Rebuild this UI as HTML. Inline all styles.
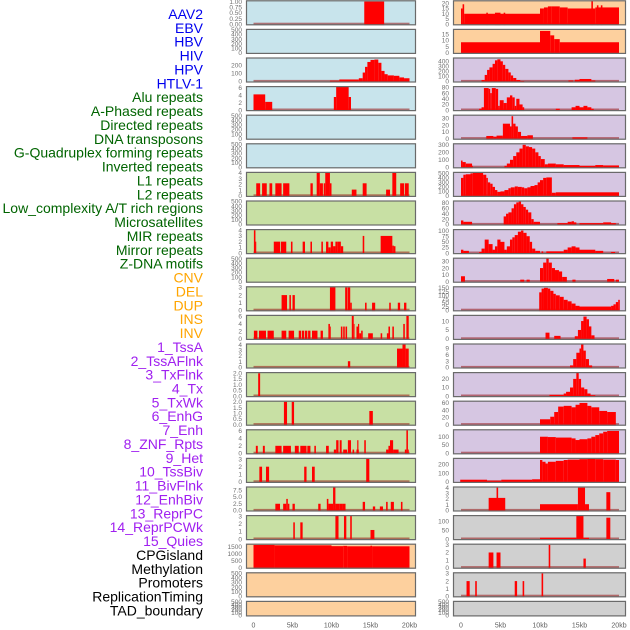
<!DOCTYPE html>
<html><head><meta charset="utf-8"><style>
html,body{margin:0;padding:0;background:#fff;}
svg{display:block;font-family:"Liberation Sans",sans-serif;}
</style></head><body>
<svg id="chart" width="630" height="630" viewBox="0 0 630 630" xmlns="http://www.w3.org/2000/svg"></svg>
<script>
const labels = ["AAV2","EBV","HBV","HIV","HPV","HTLV-1","Alu repeats","A-Phased repeats","Directed repeats","DNA transposons","G-Quadruplex forming repeats","Inverted repeats","L1 repeats","L2 repeats","Low_complexity A/T rich regions","Microsatellites","MIR repeats","Mirror repeats","Z-DNA motifs","CNV","DEL","DUP","INS","INV","1_TssA","2_TssAFlnk","3_TxFlnk","4_Tx","5_TxWk","6_EnhG","7_Enh","8_ZNF_Rpts","9_Het","10_TssBiv","11_BivFlnk","12_EnhBiv","13_ReprPC","14_ReprPCWk","15_Quies","CPGisland","Methylation","Promoters","ReplicationTiming","TAD_boundary"];
const labelGroups = [6,13,5,15,5];
const groupColors = ["#0000ee","#006400","#ffa500","#a020f0","#000000"];
const leftBg = ["b","b","b","b","b","b","g","g","g","g","g","g","g","g","g","g","g","g","g","o","o","o"];
const rightBg = ["o","o","p","p","p","p","p","p","p","p","p","p","p","p","p","p","p","g2","g2","g2","g2","g2"];
const bgColors = {b:"#c8e4ec",g:"#c8e0a4",o:"#fdd09e",p:"#d6c6e2",g2:"#d0d0d0"};
const E = ["0","100","200","300","400","500"];
const leftTicks = [["0.00","0.25","0.50","0.75","1.00"],E,["0","100","200"],["0","2","4","6"],E,E,["0","1","2","3","4"],E,["0","1","2","3","4"],E,["0","1","2","3"],["0","2","4","6"],["0","1","2","3","4"],["0.0","0.5","1.0","1.5","2.0"],["0.0","0.5","1.0","1.5","2.0"],["0","2","4","6"],["0","1","2","3"],["0.0","2.5","5.0","7.5"],["0","1","2","3"],["0","500","1000","1500"],E,E];
const leftMax = [1.02,500,285,6.2,500,500,4.05,500,4.05,500,3.05,6.2,4.05,2.03,2.03,6.2,3.05,8.6,3.05,1680,500,500];
const rightTicks = [["0","5","10","15","20"],["0","5","10","15"],["0","100","200","300","400"],["0","20","40","60","80"],["0","10","20","30"],["0","100","200","300"],["0","100","200","300","400","500"],["0","20","40","60","80"],["0","25","50","75","100"],["0","10","20","30"],["0","25","50","75","100","125","150"],["0","5","10"],["0","3","6","9"],["0","10","20"],["0","20","40","60"],["0","50","100"],["0","100","200"],["0","1","2","3","4"],["0","50","100"],["0","1","2","3"],["0","1","2","3"],E];
const rightMax = [22,18.5,460,82,34,310,515,86,103,34,155,13,11,27,64,140,265,4.05,130,3.05,3.05,500];
const leftBase = [1,0,1,1,0,0,1,0,1,0,1,1,1,1,1,1,1,1,1,0,0,0];
const rightBase = [1,1,1,1,1,1,1,1,1,1,1,1,1,1,1,1,1,1,1,1,1,0];
const leftBars = [
[[14.2,16.75,1]],
[],
[[9.8,11,10],[11,13.5,25],[13.5,14,40],[14,14.3,110],[14.3,14.6,180],[14.6,15,240],[15,15.5,265],[15.5,16,270],[16,16.4,230],[16.4,16.8,130],[16.8,17.2,90],[17.2,18,75],[18,18.7,70],[18.7,19.3,50],[19.3,20,40]],
[[0,1.5,4.2],[1.5,2.4,2.2],[10.3,10.6,3.5],[10.6,12.2,6.2],[12.2,12.5,3.5]],
[],[],
[[0.35,0.85,2.2],[1.1,1.7,2.2],[2.05,2.4,2.2],[2.8,3.6,2.2],[3.8,4.6,2.2],[7.3,7.6,2.2],[8.1,8.5,4],[8.5,8.9,2.2],[9,9.2,2.2],[9.2,9.8,4],[9.8,10,2.2],[12.6,13.2,1.1],[14,14.5,2.2],[17,17.5,1.1],[17.8,18.3,4],[18.8,19.3,2.2],[19.4,19.9,2.2]],
[],
[[0.05,0.25,4],[0.25,0.35,2],[2.6,3.4,2],[3.5,4.2,2],[4.8,5,2],[6.3,6.6,2],[7.3,7.5,2],[8.7,8.9,2],[9.3,9.6,2],[9.6,9.9,1],[9.9,10.2,2],[10.2,10.5,1.2],[10.5,10.8,2],[10.8,11.2,2],[11.2,11.5,1.2],[14,14.2,3],[16.3,17.5,3],[17.5,17.8,3],[17.8,18,1.3],[18,18.2,1.2]],
[],
[[3.6,4.3,2],[4.6,4.8,2],[5,5.3,2],[9.8,10.5,3.05],[11.75,12.05,3],[12.1,12.4,3],[12.4,12.6,1],[14.3,14.5,1],[15.2,15.6,1],[17.4,17.6,1],[18.5,18.8,1],[19.3,19.6,1]],
[[0.05,0.5,2.2],[0.7,1.6,2.2],[1.8,2.6,2.2],[3.6,4.2,2.2],[4.5,5.2,2.2],[5.8,6.1,2.2],[6.2,6.5,2.2],[6.6,6.9,2.2],[7,7.3,2.2],[7.5,8.2,2.2],[8.6,8.9,2.2],[9.6,9.8,4],[9.8,9.9,3.3],[11.2,11.4,3.3],[11.5,11.7,3.3],[11.8,12,3.3],[12.6,12.85,6.2],[12.85,12.95,4],[13.2,13.4,3.3],[13.4,13.55,4],[13.55,13.8,1.5],[13.8,14,2.2],[14.7,15.3,1.5],[16.3,16.5,1.5],[17.1,17.3,1.5],[17.3,17.5,3.3],[17.8,18,3.3],[19.2,19.4,4],[19.6,19.9,6.2]],
[[12.1,12.4,1.1],[18.4,19.1,3.3],[19.1,19.5,4.05],[19.5,19.9,3.3]],
[[0.6,0.85,2]],
[[3.9,4.3,2],[4.9,5.2,2],[14.85,15.3,1.2]],
[[0.3,0.55,2],[1.2,1.45,2],[2.8,3.6,2],[3.8,4.8,2],[5.3,5.8,2],[6,6.8,2],[6.9,7.3,2],[7.8,8,2],[9.3,9.65,2],[10.3,10.6,1],[10.6,10.9,3.5],[11.05,11.3,3.5],[11.5,12,1],[12.1,12.5,3.5],[12.7,12.9,1],[13.2,13.5,1],[13.3,13.45,3.5],[14.2,14.4,3.5],[17,17.3,1],[17.3,17.5,2],[17.5,17.9,3.5],[17.9,18.6,1],[19.4,19.6,1],[19.6,19.8,6.2],[19.8,19.9,1]],
[[0.75,1.1,2],[1.6,2,2],[6.5,6.8,2],[7.5,7.85,2],[14.45,14.85,3.05]],
[[2.8,3.4,2.5],[3.8,4.2,2.5],[4.2,4.4,4.3],[4.4,4.6,2.5],[5,5.3,2.5],[8.3,8.6,2.5],[9.4,9.6,4.3],[9.6,10.2,2.5],[10.2,10.5,8.6],[10.5,11,2.5],[11,11.4,2.5],[11.4,11.8,2.5],[14,14.3,3.2],[15.3,15.6,1.5],[16.2,16.6,1.5],[17,17.2,3.2],[17.6,18,3.2],[18.9,19.1,3.2]],
[[5.1,5.3,2.2],[6,6.3,2.2],[10.5,10.9,3.05],[11.6,11.9,3.05],[12.4,12.6,3.05],[15,15.5,1.2]],
[[0,2.7,1650],[2.7,10,1620],[10,11.5,1560],[11.5,12,1580],[12,15,1550],[15,15.2,1590],[15.2,20,1550]],
[],[]
];
const rightBars = [
[[0,0.2,15],[0.2,0.4,19],[0.4,10,10],[3.2,3.4,11],[4.3,5,11],[5.4,5.6,11],[10,10.5,15],[10.5,11,16],[11,11.5,17],[11.5,12.5,17],[12.5,13.5,16],[13.5,17,15],[17,20,16],[16.5,16.7,22],[17.2,17.4,18],[17.7,17.9,18]],
[[0,10,8.5],[10,11.3,17.5],[11.3,11.8,14],[11.8,12.5,11],[12.5,20,8.5]],
[[2.6,3,30],[3,3.3,130],[3.3,3.6,230],[3.6,4,280],[4,4.3,350],[4.3,4.6,420],[4.6,5,440],[5,5.3,400],[5.3,5.6,330],[5.6,6,250],[6,6.3,180],[6.3,6.6,120],[6.6,7,70],[7,7.5,30],[7.5,8,10],[13.6,14.2,20],[14.4,15,35],[15,16.5,50],[16.5,17,20]],
[[2.3,2.6,5],[2.6,2.9,10],[2.9,3.5,78],[3.5,3.7,75],[3.7,3.9,60],[3.9,4.4,78],[4.4,4.7,75],[4.7,4.9,15],[4.9,5.4,35],[5.4,5.8,25],[5.8,6.2,45],[6.2,6.5,52],[6.5,6.8,45],[6.8,7,15],[7,7.4,40],[7.4,7.8,20],[7.8,8,10],[12,12.5,5],[14,14.5,10],[14.5,15,15],[15,15.5,10],[15.5,16,15],[16,16.5,10],[16.5,16.8,5]],
[[3.2,4.1,4],[4.1,4.5,3],[4.5,5.3,4.5],[5.3,6.2,22],[6.2,6.4,18],[6.4,6.6,33],[6.6,6.9,22],[6.9,7.2,18],[7.2,7.6,10],[7.6,8.4,4],[8.4,9.1,5],[14.1,16,2]],
[[0,0.2,90],[0.2,0.6,70],[0.6,1.4,50],[1.4,1.5,20],[5.5,5.8,20],[5.8,6.2,50],[6.2,6.6,100],[6.6,7,150],[7,7.4,200],[7.4,7.8,250],[7.8,8.2,300],[8.2,8.6,280],[8.6,9,270],[9,9.4,250],[9.4,9.8,200],[9.8,10.1,150],[10.1,10.6,110],[10.6,11,40],[11,12,50],[12,13,40],[13,15,30],[15,17,20],[17,18,30],[18,20,25]],
[[0,0.3,400],[0.3,0.6,470],[0.6,1.2,480],[1.2,1.5,500],[1.5,2.8,510],[2.8,3.2,470],[3.2,3.4,400],[3.4,3.7,300],[3.7,4,270],[4,4.3,200],[4.3,4.6,130],[4.6,5,90],[5,5.5,100],[5.5,6,130],[6,6.3,170],[6.3,6.8,190],[6.8,7.2,210],[7.2,7.7,200],[7.7,8,190],[8,8.4,170],[8.4,8.8,190],[8.8,9.3,220],[9.3,9.7,240],[9.7,10,300],[10,10.4,350],[10.4,10.8,400],[10.8,11.5,410],[11.5,12,70],[12,20,80]],
[[0,0.3,15],[0.3,1.4,10],[5.4,5.7,30],[5.7,6,40],[6,6.4,45],[6.4,6.7,60],[6.7,7,75],[7,7.3,82],[7.3,7.6,85],[7.6,7.9,75],[7.9,8.2,65],[8.2,8.5,55],[8.5,8.9,45],[8.9,9.2,20],[9.2,10,10],[12.2,13.5,5],[13.5,14,10],[14,14.3,12],[14.3,14.6,8],[15,18,5],[18,19,8],[19,19.6,5]],
[[0,0.3,15],[0.3,1,10],[2.3,2.6,5],[2.6,3,20],[3,3.5,60],[3.5,4,40],[4,4.3,15],[4.3,4.6,30],[4.6,5,60],[5,5.5,50],[5.5,5.8,15],[5.8,6.2,30],[6.2,6.5,60],[6.5,6.8,70],[6.8,7.2,80],[7.2,7.6,95],[7.6,7.9,100],[7.9,8.3,90],[8.3,8.7,75],[8.7,9,50],[9,9.4,20],[9.4,10,10],[10.2,10.4,8],[10.8,13,8],[13,13.5,15],[13.5,14,25],[14,14.5,30],[14.5,15,25],[15,17,15],[17,18,10],[19,19.5,5]],
[[0,0.5,8],[7.5,8,3],[8.3,8.7,3],[10,10.4,20],[10.4,10.8,28],[10.8,11.1,34],[11.1,11.5,28],[11.5,11.9,20],[11.9,12.4,17],[12.4,12.8,15],[12.8,13.4,7],[14.1,14.5,3],[18.5,19.4,4],[19.6,20,3]],
[[9.9,10.2,120],[10.2,10.5,145],[10.5,11,150],[11,11.3,145],[11.3,11.7,130],[11.7,12,110],[12,12.5,100],[12.5,13,90],[13,13.5,70],[13.5,14,60],[14,14.5,45],[14.5,15,30],[15,19,25],[19,19.3,30],[19.3,19.6,40],[19.6,19.9,55],[19.9,20.1,70]],
[[10.7,11.2,3.5],[11.8,12.6,1.7],[14.4,14.8,1.5],[14.8,15.2,5],[15.2,15.5,10],[15.5,15.9,12.5],[15.9,16.2,11],[16.2,16.5,7],[16.5,16.9,2]],
[[13.8,14.2,1],[14.2,14.6,4],[14.6,15,7],[15,15.2,9],[15.2,15.5,11],[15.5,15.8,8],[15.8,16.2,4],[16.2,16.6,1]],
[[11.2,13,1.5],[13,13.3,3],[13.3,13.8,5],[13.8,14.2,10],[14.2,14.6,20],[14.6,14.9,27],[14.9,15.2,20],[15.2,15.6,10],[15.6,16,8],[16,16.4,3],[16.4,17,1]],
[[10,11.3,15],[11.3,11.8,22],[11.8,12.3,35],[12.3,13,50],[13,14,52],[14,14.5,48],[14.5,15,55],[15,16,60],[16,16.5,52],[16.5,17.5,48],[17.5,18.5,38],[18.5,19.6,35]],
[[10,11,100],[11,12,98],[12,14,95],[14,14.5,90],[14.5,15,80],[15,16,85],[16,16.5,90],[16.5,17,100],[17,17.5,110],[17.5,18,120],[18,18.5,130],[18.5,20,135]],
[[-0.1,3.3,25],[3.3,5.1,15],[5.1,9,25],[9,10,30],[10,10.3,250],[10.3,10.7,230],[10.7,11,210],[11,12,230],[12,13,240],[13,13.5,250],[13.5,15,255],[15,16,260],[16,17,265],[17,18,260],[18,19.6,255],[19.6,20,250]],
[[3.5,5.6,2.2],[4.5,4.7,4],[10,14.8,1.1],[14.8,15.7,4],[15.7,16.2,1.1],[18.4,18.9,3.2]],
[[10,14.6,8],[14.6,15.5,130],[15.5,16.2,8],[18.4,18.9,120]],
[[3.5,4.1,2],[4.5,5,2],[11.1,11.3,3],[15.5,15.8,1.2]],
[[0.7,1.1,2],[1.8,2,2],[6.8,7.1,2],[7.8,8,2],[10.2,10.4,3]],
[]
];
const xTickVals = [0,5,10,15,20];
const xTickLabels = ["0","5kb","10kb","15kb","20kb"];

const NS = "http://www.w3.org/2000/svg";
const svg = document.getElementById("chart");
function mk(tag, attrs, parent) {
  const e = document.createElementNS(NS, tag);
  for (const k in attrs) e.setAttribute(k, attrs[k]);
  (parent || svg).appendChild(e);
  return e;
}
const L = {x0: 246, x1: 416, sx: (kb) => 253.5 + kb * 7.8};
const R = {x0: 453, x1: 626, sx: (kb) => 461 + kb * 7.9};
function rowTop(i) { return 0.3 + 28.6 * i; }
function rowH(i) { return i === 21 ? 15.5 : 25; }

// labels
let li = 0;
labelGroups.forEach((n, g) => {
  for (let k = 0; k < n; k++) {
    const t = mk("text", {x: 203, y: 19 + li * 13.87, "text-anchor": "end", "font-size": "14", fill: groupColors[g]});
    t.textContent = labels[li];
    
    
    li++;
  }
});

function drawPanel(side, i, bg, ticks, ymax, bars, base) {
  const T = rowTop(i), H = rowH(i);
  const g = mk("g", {});
  
  
  const clipId = "c" + (side === L ? "L" : "R") + i;
  const cp = mk("clipPath", {id: clipId}, g);
  mk("rect", {x: side.x0, y: T, width: side.x1 - side.x0, height: H}, cp);
  const bgr = mk("rect", {x: side.x0, y: T, width: side.x1 - side.x0, height: H, fill: bgColors[bg]}, g);
  
  
  const y = (v) => T + H - 1 - v / ymax * (H - 1.8);
  const inner = mk("g", {"clip-path": "url(#" + clipId + ")"}, g);
  if (base) {
    const bl = mk("rect", {x: side.sx(0), y: T + H - 2.6, width: side.sx(20) - side.sx(0), height: 1.8, fill: "rgba(150,20,20,0.55)"}, inner);
    
    
  }
  bars.forEach(b => {
    const x0 = side.sx(b[0]), x1 = side.sx(b[1]);
    const yt = y(b[2]);
    const r = mk("rect", {x: x0, y: yt, width: Math.max(0.8, x1 - x0), height: T + H - yt, fill: "#ff0000"}, inner);
    
    
  });
  const br = mk("rect", {x: side.x0 + 0.5, y: T + 0.5, width: side.x1 - side.x0 - 1, height: H - 1, fill: "none", stroke: "#6a6a6a", "stroke-width": 1.2}, g);
  
  
  const n = ticks.length;
  const topVal = parseFloat(ticks[n - 1]);
  ticks.forEach((tl, k) => {
    const v = parseFloat(tl);
    let yy = y(v);
    if (ticks === E || (H < 20)) yy = T + H - 1 - (k / (n - 1)) * (H - 2);
    const t = mk("text", {x: side.x0 - 4, y: yy + 2.2, "text-anchor": "end", "font-size": "6.5", fill: "#707070"}, g);
    t.textContent = tl;
    
    
  });
}
for (let i = 0; i < 22; i++) {
  drawPanel(L, i, leftBg[i], leftTicks[i], leftMax[i], leftBars[i], leftBase[i]);
  drawPanel(R, i, rightBg[i], rightTicks[i], rightMax[i], rightBars[i], rightBase[i]);
}
[L, R].forEach(side => {
  xTickVals.forEach((v, k) => {
    const t = mk("text", {x: side.sx(v), y: 627.5, "text-anchor": "middle", "font-size": "7", fill: "#606060"});
    t.textContent = xTickLabels[k];
    
    
  });
});
</script>
</body></html>
